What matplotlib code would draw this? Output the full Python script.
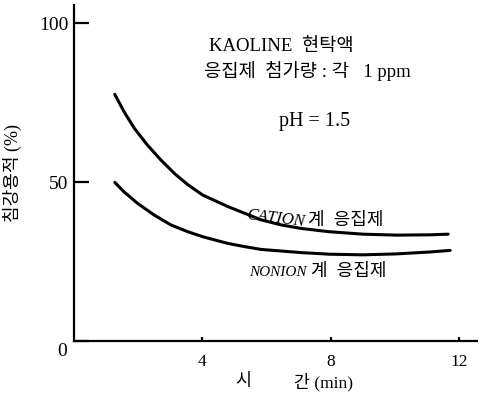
import matplotlib
matplotlib.use('Agg')
import matplotlib.pyplot as plt
from matplotlib.transforms import offset_copy

plt.rcParams['font.family'] = ['Liberation Serif', 'Noto Sans CJK KR']

# values
cation_t = [1.27, 1.56, 1.88, 2.29, 2.71, 3.13, 3.54, 4.01, 4.79, 5.31, 5.83,
            6.46, 7.08, 7.92, 9.0, 10.05, 11.1, 11.66]
cation_v = [77.6, 72.1, 66.9, 61.6, 56.9, 52.7, 49.2, 45.9, 42.3, 40.2, 38.1,
            36.5, 35.4, 34.4, 33.6, 33.3, 33.4, 33.6]
nonion_t = [1.27, 1.56, 1.98, 2.5, 3.02, 3.54, 4.01, 4.79, 5.31, 5.83, 6.46,
            7.08, 7.97, 9.0, 10.05, 11.1, 11.72]
nonion_v = [49.9, 46.9, 43.3, 39.6, 36.5, 34.4, 32.8, 30.7, 29.7, 28.8, 28.3,
            27.8, 27.3, 27.1, 27.4, 28.0, 28.5]
xticks = [4, 8, 12]
yticks = [0, 50, 100]

fig = plt.figure(figsize=(4.79, 4.11), dpi=100)
ax = fig.add_axes([0.1545, 0.1703, 0.996 - 0.1545, 0.988 - 0.1703])

ax.plot(cation_t, cation_v, color='black', lw=2.2, solid_capstyle='round',
        solid_joinstyle='round')
ax.plot(nonion_t, nonion_v, color='black', lw=2.2, solid_capstyle='round',
        solid_joinstyle='round')

ax.set_xlim(0, 12.56)
ax.set_ylim(0, 105.7)
for s in ['top', 'right']:
    ax.spines[s].set_visible(False)
for s in ['left', 'bottom']:
    ax.spines[s].set_linewidth(1.6)

ax.set_xticks(xticks)
ax.set_yticks(yticks)
ax.tick_params(axis='y', direction='in', length=11, width=1.6, pad=4, labelsize=14)
ax.tick_params(axis='x', direction='in', length=3, width=1.6, pad=9, labelsize=12.5)
# the "0" sits a bit lower in the original
zero = ax.get_yticklabels()[0]
zero.set_transform(offset_copy(zero.get_transform(), fig=fig, x=-1, y=-8, units='dots'))

ax.set_ylabel('침강용적 (%)', fontsize=13, labelpad=12)
fig.text(243 / 479, 1 - 382 / 411, '시', fontsize=12.5, ha='center', va='center')
fig.text(294 / 479, 1 - 382 / 411, '간 (min)', fontsize=12.5, ha='left', va='center')

ax.text(4.22, 91.2, 'KAOLINE  현탁액', fontsize=13.5, va='baseline')
ax.text(4.06, 83.0, '응집제  첨가량 : 각   1 ppm', fontsize=13.5, va='baseline')
ax.text(6.4, 67.6, 'pH = 1.5', fontsize=14.5, va='baseline')

ax.text(5.35, 38.5, 'CATION', fontsize=12, style='italic', rotation=-7,
        va='baseline', rotation_mode='anchor')
ax.text(7.3, 36.6, '계  응집제', fontsize=13, va='baseline')
ax.text(5.45, 20.6, 'NONION', fontsize=11, style='italic', va='baseline')
ax.text(7.38, 20.6, '계  응집제', fontsize=13, va='baseline')

fig.savefig('out.png', dpi=100)
